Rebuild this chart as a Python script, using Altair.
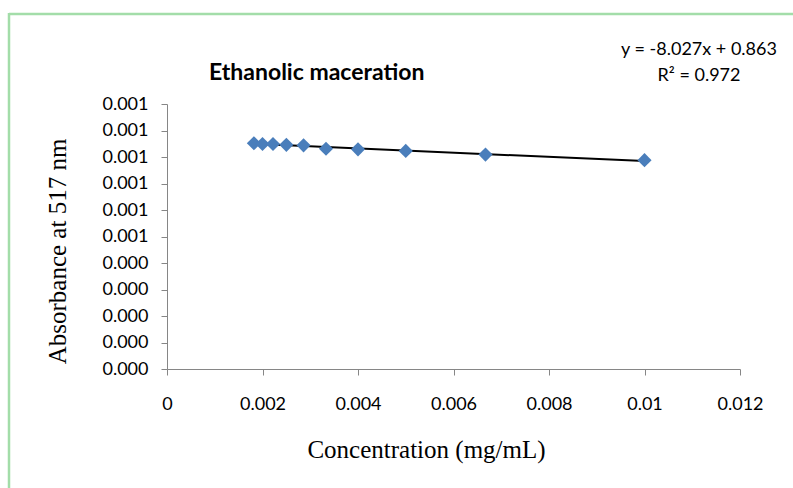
import altair as alt
import pandas as pd

# ---- data ----
conc = [0.00182, 0.002, 0.00222, 0.0025, 0.00286, 0.00333, 0.004, 0.005, 0.00667, 0.01]
absorb = [0.000852, 0.000849, 0.000849, 0.000846, 0.000844, 0.000831, 0.000829, 0.000823, 0.000809, 0.000788]
x_ticks = [0, 0.002, 0.004, 0.006, 0.008, 0.01, 0.012]
y_ticks = [0.0, 0.0001, 0.0002, 0.0003, 0.0004, 0.0005, 0.0006, 0.0007, 0.0008, 0.0009, 0.001]
title_text = ["Ethanolic maceration"]
eq_text = ["y = -8.027x + 0.863"]
r2_text = ["R² = 0.972"]

df = pd.DataFrame({"x": conc, "y": absorb})

W, H = 573, 265
PAD = {"left": 167, "top": 104, "right": 793 - 167 - W, "bottom": 488 - 104 - H}

x_enc = alt.X(
    "x:Q",
    scale=alt.Scale(domain=[0, 0.012], nice=False, zero=True),
    axis=alt.Axis(
        values=x_ticks, format="~g", title="Concentration (mg/mL)",
        grid=False, tickSize=6, labelPadding=20, labelOverlap=False, labelFlush=False,
        titleFont="Liberation Serif", titleFontSize=25, titleFontWeight="normal",
        titleColor="black", titleX=259, titleY=88, titleBaseline="alphabetic",
        titleAlign="center",
    ),
)
y_enc = alt.Y(
    "y:Q",
    scale=alt.Scale(domain=[0, 0.001], nice=False, zero=True),
    axis=alt.Axis(
        values=y_ticks, format=".3f", title="Absorbance at 517 nm",
        grid=False, tickSize=6, labelPadding=13, labelOverlap=False, labelFlush=False,
        titleFont="Liberation Serif", titleFontSize=25, titleFontWeight="normal",
        titleColor="black", titleX=-102, titleY=147, titleBaseline="alphabetic",
        titleAngle=270, titleAlign="center",
    ),
)

base = alt.Chart(df)

points = base.mark_point(shape="diamond", filled=True, size=200, color="#4A7EBB", opacity=1).encode(
    x=x_enc, y=y_enc
)

trend = base.transform_regression("x", "y").mark_line(color="black", strokeWidth=2).encode(
    x=x_enc, y=y_enc
)

title = alt.Chart(pd.DataFrame({"t": title_text})).mark_text(
    font="Lato", fontSize=23, fontWeight="bold", align="left", baseline="alphabetic", color="black"
).encode(text="t:N", x=alt.value(42), y=alt.value(-24))

eq = alt.Chart(pd.DataFrame({"t": eq_text})).mark_text(
    font="Lato", fontSize=18, align="center", baseline="alphabetic", color="black"
).encode(text="t:N", x=alt.value(532), y=alt.value(-49))

r2 = alt.Chart(pd.DataFrame({"t": r2_text})).mark_text(
    font="Lato", fontSize=18, align="center", baseline="alphabetic", color="black"
).encode(text="t:N", x=alt.value(532), y=alt.value(-23))

border_top = alt.Chart(pd.DataFrame({"a": [0]})).mark_rule(color="#A3DDA9", strokeWidth=2.5).encode(
    x=alt.value(-158), x2=alt.value(700), y=alt.value(-90)
)
border_left = alt.Chart(pd.DataFrame({"a": [0]})).mark_rule(color="#A3DDA9", strokeWidth=2.5).encode(
    x=alt.value(-158), y=alt.value(-91), y2=alt.value(450)
)

chart = alt.layer(border_top, border_left, trend, points, title, eq, r2).properties(
    width=W, height=H,
    autosize=alt.AutoSizeParams(type="none"),
    padding=PAD,
    background="white",
).configure_view(stroke=None).configure_axis(
    domainColor="#868686", tickColor="#868686", domainWidth=1, tickWidth=1,
    labelFont="Lato", labelFontSize=18, labelColor="black",
)

chart.save("out.html", embed_options={"renderer": "svg", "actions": False})
